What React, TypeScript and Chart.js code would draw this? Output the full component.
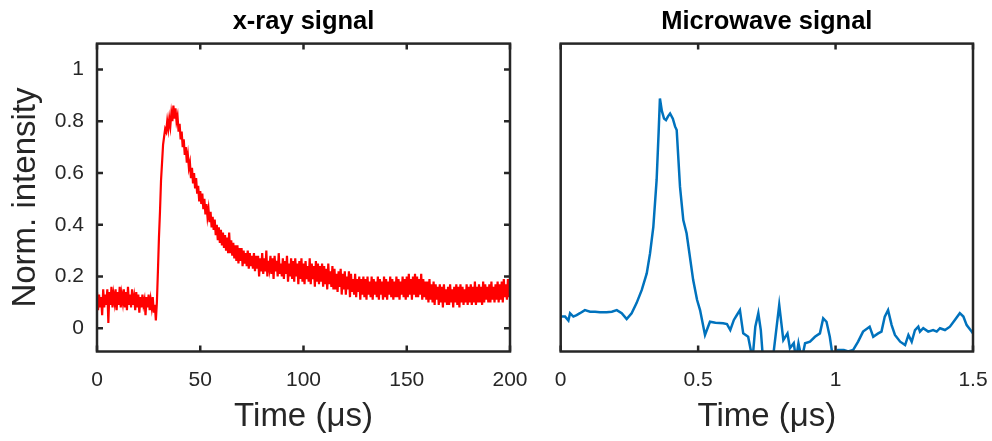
import React, { useEffect, useRef } from 'react';
import { Chart, registerables } from 'chart.js';

Chart.register(...registerables);

// ---------- data ----------
// x-ray signal, sampled every 0.5 µs from 0 to 200 µs
const xrayStart = 0;
const xrayStep = 0.5;
const xrayValues = [
  0.14,0.07,0.13,0.08,0.12,0.05,0.15,0.08,0.13,0.09,
  0.15,0.02,0.14,0.09,0.16,0.08,0.13,0.10,0.15,0.07,
  0.14,0.09,0.16,0.08,0.13,0.10,0.15,0.08,0.14,0.07,
  0.16,0.09,0.13,0.08,0.15,0.09,0.12,0.07,0.14,0.08,
  0.13,0.06,0.12,0.08,0.13,0.09,0.11,0.05,0.12,0.08,
  0.13,0.07,0.11,0.08,0.12,0.06,0.09,0.03,
  0.10,0.22,0.35,0.45,0.57,0.64,0.71,0.74,0.77,0.76,
  0.80,0.77,0.81,0.78,0.83,0.80,0.86,0.81,0.85,0.80,
  0.82,0.76,0.79,0.73,0.76,0.70,0.73,0.67,0.70,0.64,
  0.67,0.62,0.64,0.58,0.62,0.56,0.60,0.54,0.58,0.52,
  0.55,0.49,0.53,0.48,0.52,0.46,0.50,0.44,0.48,0.43,
  0.46,0.41,0.45,0.39,0.43,0.38,0.42,0.36,0.40,0.34,
  0.39,0.33,0.38,0.32,0.37,0.31,0.36,0.30,0.35,0.29,
  0.37,0.29,0.34,0.28,0.33,0.27,0.32,0.26,0.32,0.25,
  0.31,0.26,0.31,0.24,0.30,0.25,0.29,0.24,0.30,0.23,
  0.29,0.24,0.28,0.23,0.29,0.22,0.28,0.23,0.28,0.20,
  0.27,0.22,
  0.29,0.21,0.27,0.22,0.30,0.20,0.26,0.23,0.28,0.21,
  0.27,0.19,0.28,0.22,0.26,0.20,0.29,0.21,0.25,0.20,
  0.27,0.19,0.26,0.21,0.28,0.18,0.25,0.20,0.27,0.19,
  0.26,0.18,0.27,0.20,0.25,0.17,0.26,0.19,0.27,0.18,
  0.25,0.17,0.26,0.19,0.24,0.18,0.27,0.17,0.25,0.19,
  0.24,0.16,0.26,0.18,0.25,0.17,0.24,0.18,0.25,0.16,
  0.24,0.17,0.23,0.15,0.25,0.17,0.22,0.16,0.24,0.15,
  0.23,0.15,0.21,0.14,0.22,0.16,0.23,0.13,0.21,0.15,
  0.22,0.13,0.20,0.15,0.22,0.12,0.21,0.14,0.19,0.13,
  0.21,0.12,0.19,0.14,0.20,0.11,0.19,0.13,0.20,0.12,
  0.19,0.11,0.20,0.13,0.18,0.12,0.20,0.11,0.19,0.13,
  0.18,0.12,0.20,0.11,0.19,0.13,0.18,0.11,0.20,0.12,
  0.19,0.11,0.18,0.13,0.20,0.12,0.19,0.11,0.18,0.12,
  0.20,0.12,0.19,0.11,0.18,0.13,0.20,0.12,0.19,0.11,
  0.20,0.12,0.21,0.13,0.19,0.11,0.20,0.13,0.21,0.12,
  0.20,0.12,0.19,0.13,0.21,0.11,0.19,0.12,0.18,0.11,
  0.18,0.10,0.19,0.11,0.17,0.10,0.18,0.09,0.17,0.11,
  0.16,0.09,0.17,0.10,0.16,0.08,0.17,0.10,0.15,0.09,
  0.16,0.09,0.17,0.10,0.15,0.08,0.16,0.10,0.17,0.09,
  0.16,0.08,0.17,0.10,0.16,0.09,0.15,0.10,0.17,0.09,
  0.16,0.10,0.17,0.09,0.16,0.10,0.18,0.09,0.16,0.10,
  0.17,0.10,0.16,0.09,0.18,0.10,0.17,0.11,0.16,0.10,
  0.17,0.10,0.18,0.11,0.16,0.10,0.17,0.11,0.18,0.10,
  0.17,0.11,0.18,0.10,0.19,0.12,0.17,0.11,0.19,0.12,
  0.17,
];

// microwave signal (µs, norm.)
const mwTime = [
  0.000,0.016,0.028,0.034,0.046,0.058,0.070,0.088,0.107,0.125,
  0.143,0.167,0.186,0.204,0.222,0.240,0.258,0.276,0.295,0.313,
  0.325,0.337,0.349,0.356,0.361,0.368,0.376,0.383,0.391,0.398,
  0.408,0.416,0.422,0.434,0.446,0.458,0.482,0.496,0.507,0.525,
  0.543,0.563,0.591,0.605,0.617,0.630,0.641,0.652,0.664,0.682,
  0.698,0.708,0.719,0.728,0.736,0.762,0.775,0.795,0.810,0.825,
  0.834,0.848,0.856,0.865,0.877,0.889,0.907,0.925,0.943,0.955,
  0.967,0.979,0.991,1.009,1.030,1.046,1.064,1.082,1.100,1.124,
  1.137,1.155,1.167,1.179,1.191,1.204,1.216,1.235,1.253,1.265,
  1.277,1.289,1.301,1.307,1.319,1.337,1.355,1.368,1.380,1.398,
  1.416,1.434,1.452,1.465,1.477,1.495,1.500,
];
const mwValue = [
  0.045,0.045,0.030,0.058,0.045,0.051,0.058,0.070,0.064,0.064,
  0.062,0.062,0.064,0.070,0.058,0.035,0.058,0.097,0.148,0.212,
  0.289,0.392,0.573,0.750,0.888,0.840,0.810,0.804,0.820,0.830,
  0.810,0.780,0.766,0.547,0.418,0.367,0.186,0.110,0.070,-0.026,
  0.025,0.021,0.019,0.016,-0.007,0.032,0.051,0.070,-0.020,-0.033,
  -0.120,0.006,0.058,-0.007,-0.120,-0.120,-0.090,0.090,-0.046,-0.020,
  -0.077,-0.058,-0.120,-0.058,-0.120,-0.058,-0.052,-0.033,-0.020,0.038,
  0.025,-0.033,-0.120,-0.084,-0.084,-0.090,-0.084,-0.052,-0.013,0.006,
  -0.033,-0.020,-0.013,0.045,0.070,0.012,-0.026,-0.052,-0.065,-0.026,
  -0.052,-0.007,0.006,-0.013,0.000,-0.013,-0.007,-0.013,0.000,-0.007,
  0.006,0.032,0.058,0.045,0.012,-0.013,-0.020,
];

const yTicks = [0, 0.2, 0.4, 0.6, 0.8, 1];
const xrayTicks = [0, 50, 100, 150, 200];
const mwTicks = [0, 0.5, 1, 1.5];
const yMin = -0.09;
const yMax = 1.1;

// ---------- styling ----------
const FONT = "'Liberation Sans', Arial, Helvetica, sans-serif";
const AXIS = '#262626';

const framePlugin = {
  id: 'frame',
  afterDatasetsDraw(chart: any, _args: any, opts: any) {
    const { ctx, chartArea: a, scales } = chart;
    ctx.save();
    ctx.strokeStyle = AXIS;
    ctx.lineWidth = 2.5;
    const L = 6;
    ctx.beginPath();
    for (const t of scales.x.ticks) {
      const px = scales.x.getPixelForValue(t.value);
      ctx.moveTo(px, a.bottom);
      ctx.lineTo(px, a.bottom - L);
      ctx.moveTo(px, a.top);
      ctx.lineTo(px, a.top + L);
    }
    if (opts && opts.yTicks) {
      for (const t of scales.y.ticks) {
        const py = scales.y.getPixelForValue(t.value);
        ctx.moveTo(a.left, py);
        ctx.lineTo(a.left + L, py);
        ctx.moveTo(a.right, py);
        ctx.lineTo(a.right - L, py);
      }
    }
    ctx.stroke();
    ctx.strokeRect(a.left, a.top, a.right - a.left, a.bottom - a.top);
    ctx.restore();
  },
};

function makeConfig(opts: {
  title: string;
  points: { x: number; y: number }[];
  color: string;
  width: number;
  xMin: number;
  xMax: number;
  xTicks: number[];
  showY: boolean;
  padLeft: number;
  padRight: number;
}): any {
  return {
    type: 'line',
    data: {
      datasets: [
        {
          data: opts.points,
          borderColor: opts.color,
          borderWidth: opts.width,
          pointRadius: 0,
          tension: 0,
          fill: false,
          clip: 0,
        },
      ],
    },
    options: {
      responsive: false,
      maintainAspectRatio: false,
      animation: false,
      devicePixelRatio: 1,
      events: [],
      layout: { padding: { left: opts.padLeft, right: opts.padRight, top: 0, bottom: 0 } },
      plugins: {
        legend: { display: false },
        tooltip: { enabled: false },
        title: {
          display: true,
          text: opts.title,
          color: '#000000',
          fullSize: false,
          font: { family: FONT, size: 25.5, weight: 'bold', lineHeight: 1.2 },
          padding: { top: 7, bottom: 6 },
        },
        frame: { yTicks: opts.showY },
      },
      scales: {
        x: {
          type: 'linear',
          min: opts.xMin,
          max: opts.xMax,
          grid: { display: false, drawTicks: true, tickLength: 16 },
          border: { display: false },
          afterBuildTicks: (s: any) => {
            s.ticks = opts.xTicks.map((v) => ({ value: v }));
          },
          afterFit: (s: any) => {
            s.height = 89.5;
          },
          ticks: {
            color: AXIS,
            font: { family: FONT, size: 21 },
            padding: 0,
            maxRotation: 0,
            autoSkip: false,
            callback: (v: any) => String(v),
          },
          title: {
            display: true,
            text: 'Time (μs)',
            color: AXIS,
            font: { family: FONT, size: 33, lineHeight: 1.2 },
            padding: { top: 0, bottom: 4 },
          },
        },
        y: {
          type: 'linear',
          display: opts.showY,
          min: yMin,
          max: yMax,
          grid: { display: false, drawTicks: true, tickLength: 13 },
          border: { display: false },
          afterBuildTicks: (s: any) => {
            s.ticks = yTicks.map((v) => ({ value: v }));
          },
          afterFit: (s: any) => {
            s.width = opts.showY ? 97 : 0;
          },
          ticks: {
            color: AXIS,
            font: { family: FONT, size: 21 },
            padding: 0,
            autoSkip: false,
            callback: (v: any) => String(v),
          },
          title: {
            display: true,
            text: 'Norm. intensity',
            color: AXIS,
            font: { family: FONT, size: 33, lineHeight: 1.2 },
            padding: { top: 6, bottom: 0 },
          },
        },
      },
    },
    plugins: [framePlugin],
  };
}

function Panel({ left, width, build }: { left: number; width: number; build: () => any }) {
  const ref = useRef<HTMLCanvasElement>(null);
  useEffect(() => {
    const chart = new Chart(ref.current as HTMLCanvasElement, build());
    return () => chart.destroy();
  }, []);
  return (
    <canvas
      ref={ref}
      width={width}
      height={441}
      style={{ position: 'absolute', left, top: 0, width, height: 441 }}
    />
  );
}

export default function App() {
  const xrayPoints = xrayValues.map((v, i) => ({ x: xrayStart + i * xrayStep, y: v }));
  const mwPoints = mwTime.map((t, i) => ({ x: t, y: mwValue[i] }));
  return (
    <div style={{ position: 'absolute', left: 0, top: 0, width: 992, height: 441, background: '#fff' }}>
      <Panel
        left={0}
        width={530}
        build={() =>
          makeConfig({
            title: 'x-ray signal',
            points: xrayPoints,
            color: '#ff0000',
            width: 2.2,
            xMin: 0,
            xMax: 200,
            xTicks: xrayTicks,
            showY: true,
            padLeft: 0,
            padRight: 20,
          })
        }
      />
      <Panel
        left={530}
        width={462}
        build={() =>
          makeConfig({
            title: 'Microwave signal',
            points: mwPoints,
            color: '#0072bd',
            width: 2.5,
            xMin: 0,
            xMax: 1.5,
            xTicks: mwTicks,
            showY: false,
            padLeft: 30.7,
            padRight: 19,
          })
        }
      />
    </div>
  );
}
